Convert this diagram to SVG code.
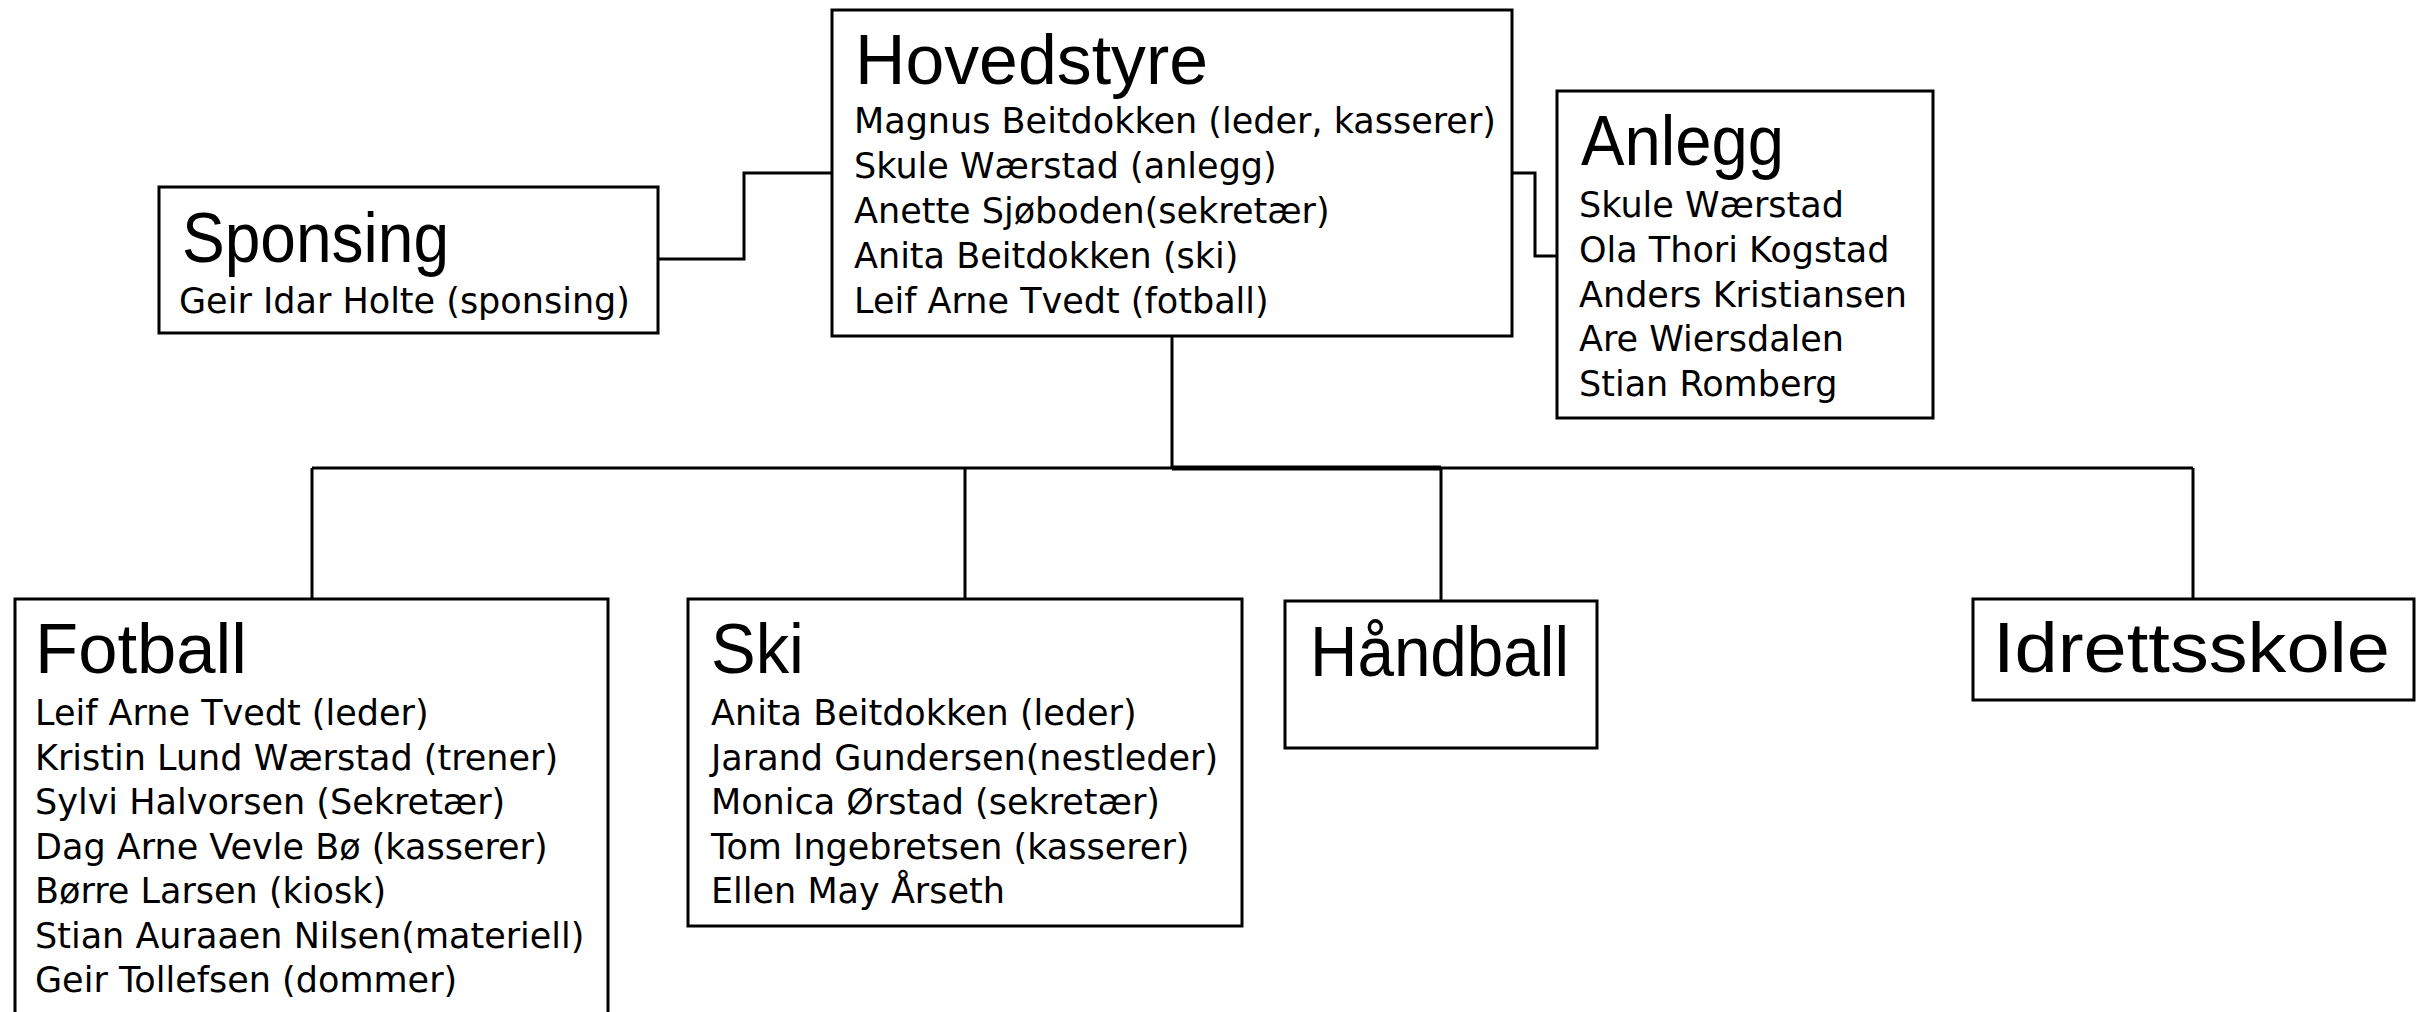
<svg xmlns="http://www.w3.org/2000/svg" width="2427" height="1012" viewBox="0 0 2427 1012">
<style>
.box{fill:#fff;stroke:#000;stroke-width:3}
.title{font-family:"Comic Sans MS","Liberation Sans",sans-serif;font-size:70px;fill:#000}
.body{font-family:"Comic Sans MS","DejaVu Sans",sans-serif;font-size:35px;fill:#000}
.conn{fill:none;stroke:#000;stroke-width:3}
</style>
<rect width="2427" height="1012" fill="#fff"/>
<g id="connectors">
<path class="conn" d="M658,259 H744 V173 H832"/>
<path class="conn" d="M1512,173 H1535 V256 H1557"/>
<path class="conn" d="M1172,336 V468"/>
<path class="conn" d="M312,468 H2193"/>
<path class="conn" d="M1172,468 H1441" style="stroke-width:5"/>
<path class="conn" d="M312,468 V599"/>
<path class="conn" d="M965,468 V599"/>
<path class="conn" d="M1441,468 V601"/>
<path class="conn" d="M2193,468 V599"/>
</g>
<g id="hovedstyre">
<rect class="box" x="832" y="10" width="680" height="326"/>
<text class="title" x="855" y="84" textLength="353" lengthAdjust="spacingAndGlyphs">Hovedstyre</text>
<text class="body" x="854" y="133">Magnus Beitdokken (leder, kasserer)</text>
<text class="body" x="854" y="178">Skule Wærstad (anlegg)</text>
<text class="body" x="854" y="223">Anette Sjøboden(sekretær)</text>
<text class="body" x="854" y="268">Anita Beitdokken (ski)</text>
<text class="body" x="854" y="313">Leif Arne Tvedt (fotball)</text>
</g>
<g id="sponsing">
<rect class="box" x="159" y="187" width="499" height="146"/>
<text class="title" x="182" y="262" textLength="267" lengthAdjust="spacingAndGlyphs">Sponsing</text>
<text class="body" x="179" y="313">Geir Idar Holte (sponsing)</text>
</g>
<g id="anlegg">
<rect class="box" x="1557" y="91" width="376" height="327"/>
<text class="title" x="1581" y="165" textLength="203" lengthAdjust="spacingAndGlyphs">Anlegg</text>
<text class="body" x="1579" y="217">Skule Wærstad</text>
<text class="body" x="1579" y="262">Ola Thori Kogstad</text>
<text class="body" x="1579" y="307">Anders Kristiansen</text>
<text class="body" x="1579" y="351">Are Wiersdalen</text>
<text class="body" x="1579" y="396">Stian Romberg</text>
</g>
<g id="fotball">
<rect class="box" x="15" y="599" width="593" height="440"/>
<text class="title" x="35" y="673" textLength="212" lengthAdjust="spacingAndGlyphs">Fotball</text>
<text class="body" x="35" y="725">Leif Arne Tvedt (leder)</text>
<text class="body" x="35" y="769.5">Kristin Lund Wærstad (trener)</text>
<text class="body" x="35" y="814">Sylvi Halvorsen (Sekretær)</text>
<text class="body" x="35" y="858.5">Dag Arne Vevle Bø (kasserer)</text>
<text class="body" x="35" y="903">Børre Larsen (kiosk)</text>
<text class="body" x="35" y="947.5">Stian Auraaen Nilsen(materiell)</text>
<text class="body" x="35" y="992">Geir Tollefsen (dommer)</text>
</g>
<g id="ski">
<rect class="box" x="688" y="599" width="554" height="327"/>
<text class="title" x="711" y="673" textLength="93" lengthAdjust="spacingAndGlyphs">Ski</text>
<text class="body" x="711" y="725">Anita Beitdokken (leder)</text>
<text class="body" x="711" y="769.5">Jarand Gundersen(nestleder)</text>
<text class="body" x="711" y="814">Monica Ørstad (sekretær)</text>
<text class="body" x="711" y="858.5">Tom Ingebretsen (kasserer)</text>
<text class="body" x="711" y="903">Ellen May Årseth</text>
</g>
<g id="handball">
<rect class="box" x="1285" y="601" width="312" height="147"/>
<text class="title" x="1310" y="676" textLength="259" lengthAdjust="spacingAndGlyphs">Håndball</text>
</g>
<g id="idrettsskole">
<rect class="box" x="1973" y="599" width="441" height="101"/>
<text class="title" x="1993" y="672" textLength="397" lengthAdjust="spacingAndGlyphs">Idrettsskole</text>
</g>
</svg>
